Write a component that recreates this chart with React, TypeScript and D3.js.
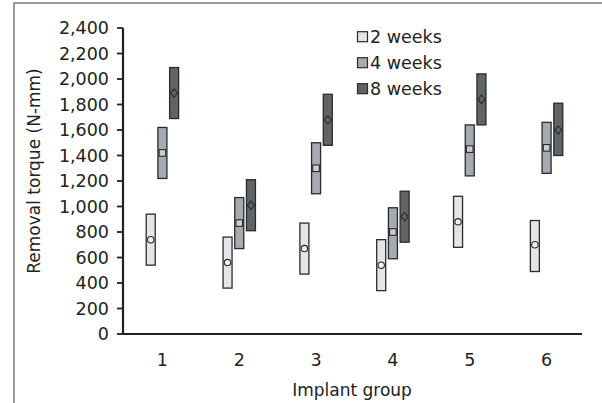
import React from "react";
import * as d3 from "d3";

const groups = ["1", "2", "3", "4", "5", "6"];
const seriesNames = ["2 weeks", "4 weeks", "8 weeks"];
const yTicks = [0, 200, 400, 600, 800, 1000, 1200, 1400, 1600, 1800, 2000, 2200, 2400];

const low2 = [540, 360, 470, 340, 680, 490];
const high2 = [940, 760, 870, 740, 1080, 890];
const mean2 = [740, 560, 670, 540, 880, 700];

const low4 = [1220, 670, 1100, 590, 1240, 1260];
const high4 = [1620, 1070, 1500, 990, 1640, 1660];
const mean4 = [1420, 870, 1300, 800, 1450, 1460];

const low8 = [1690, 810, 1480, 720, 1640, 1400];
const high8 = [2090, 1210, 1880, 1120, 2040, 1810];
const mean8 = [1890, 1010, 1680, 920, 1840, 1600];

const lows = [low2, low4, low8];
const highs = [high2, high4, high8];
const means = [mean2, mean4, mean8];

const fills = ["#e4e5e8", "#a6aab1", "#5f6567"];
const markerFills = ["#f2f2f4", "#c9ccd1", "#5f6567"];
const offsets = [-11.7, 0, 11.7];
const FONT = "DejaVu Sans, sans-serif";

export default function App() {
  const W = 602, H = 403;
  const x = d3.scaleBand<string>().domain(groups).range([124, 585]).padding(0);
  const y = d3.scaleLinear().domain([0, 2400]).range([334, 28]);
  const axisX0 = 123, axisX1 = 582;
  const bw = 9;

  const marker = (s: number, cx: number, cy: number, key: string) => {
    if (s === 0) return <circle key={key} cx={cx} cy={cy} r={3.2} fill={markerFills[0]} stroke="#2a2a2a" strokeWidth={1.1} />;
    if (s === 1) return <rect key={key} x={cx - 3.3} y={cy - 3.3} width={6.6} height={6.6} fill={markerFills[1]} stroke="#2a2a2a" strokeWidth={1.1} />;
    const p = d3.path();
    p.moveTo(cx, cy - 4.2); p.lineTo(cx + 3.6, cy); p.lineTo(cx, cy + 4.2); p.lineTo(cx - 3.6, cy); p.closePath();
    return <path key={key} d={p.toString()} fill={markerFills[2]} stroke="#2a2a2a" strokeWidth={1.1} />;
  };

  return (
    <svg width={W} height={H} style={{ position: "absolute", left: 0, top: 0, background: "#fff" }} fontFamily={FONT}>
      <rect x={0} y={0} width={W} height={H} fill="#fff" />
      {/* frame */}
      <rect x={14} y={3} width={620} height={420} fill="none" stroke="#7a7a7a" strokeWidth={1.5} />

      {/* y axis */}
      <line x1={axisX0} x2={axisX0} y1={y(2400)} y2={y(0) + 1} stroke="#222" strokeWidth={2.2} />
      {yTicks.map((t) => (
        <g key={t}>
          <line x1={axisX0 - 6} x2={axisX0} y1={y(t)} y2={y(t)} stroke="#222" strokeWidth={1.8} />
          <text x={109} y={y(t)} dy="0.36em" textAnchor="end" fontSize={17.5} fill="#222">
            {d3.format(",")(t)}
          </text>
        </g>
      ))}
      {/* x axis */}
      <line x1={axisX0 - 1} x2={axisX1} y1={y(0)} y2={y(0)} stroke="#222" strokeWidth={2.2} />
      {groups.map((g) => (
        <text key={g} x={(x(g) as number) + x.bandwidth() / 2} y={366} textAnchor="middle" fontSize={17.5} fill="#222">
          {g}
        </text>
      ))}

      {/* boxes */}
      {seriesNames.map((s, si) =>
        groups.map((g, gi) => {
          const cx = (x(g) as number) + x.bandwidth() / 2 + offsets[si];
          const yt = y(highs[si][gi]);
          const yb = y(lows[si][gi]);
          return (
            <g key={s + g}>
              <rect x={cx - bw / 2} y={yt} width={bw} height={yb - yt} fill={fills[si]} stroke="#2a2a2a" strokeWidth={1.3} />
              {marker(si, cx, y(means[si][gi]), "m" + s + g)}
            </g>
          );
        })
      )}

      {/* legend */}
      {seriesNames.map((s, i) => {
        const cy = 36.7 + i * 26;
        return (
          <g key={s}>
            <rect x={357.5} y={cy - 5} width={10} height={10} fill={fills[i]} stroke="#2a2a2a" strokeWidth={1.2} />
            <text x={370} y={cy} dy="0.36em" fontSize={17.5} fill="#222">{s}</text>
          </g>
        );
      })}

      {/* titles */}
      <text x={352} y={396} textAnchor="middle" fontSize={17} fill="#222">Implant group</text>
      <text transform={`translate(40,171) rotate(-90)`} textAnchor="middle" fontSize={17} fill="#222">Removal torque (N-mm)</text>
    </svg>
  );
}
